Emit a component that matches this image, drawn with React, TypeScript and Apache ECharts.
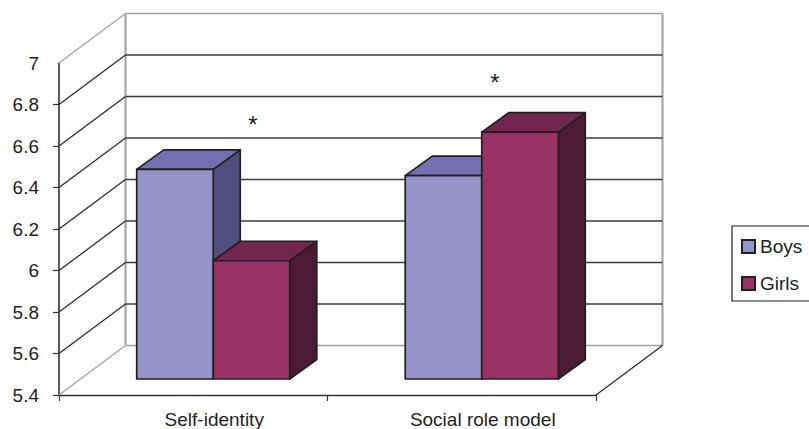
import React, { useEffect, useRef } from "react";
import * as echarts from "echarts";

const categories = ["Self-identity", "Social role model"];
const boys = [6.41, 6.38];
const girls = [5.97, 6.59];
const yTicks = [5.4, 5.6, 5.8, 6, 6.2, 6.4, 6.6, 6.8, 7];
const yMin = 5.4;
const yMax = 7;
const step = 0.2;

const FONT = '"Liberation Sans", Arial, sans-serif';
const TEXT = "#231f20";
const EDGE = "#231f20";
const GRID = "#3c3c3c";
const WALL = "#a0a0a2";
const WALL_D = [66.5, -49.5];
const BAR_BASE = [20, -16];
const BAR_D = [27, -19.5];
const BAR_FRAC = 0.285;

const face = (points: number[][], fill: string) => ({
  type: "polygon",
  shape: { points },
  style: { fill, stroke: EDGE, lineWidth: 1.7, lineJoin: "round" },
  silent: true,
});

const bar3d = (side: -1 | 1, front: string, top: string, right: string) => (_: any, api: any) => {
  const base = api.coord([api.value(0), yMin]);
  const head = api.coord([api.value(0), api.value(1)]);
  const bw = api.size([1, 0])[0] * BAR_FRAC;
  const x0 = base[0] + BAR_BASE[0] + (side < 0 ? -bw : 0);
  const x1 = x0 + bw;
  const y0 = base[1] + BAR_BASE[1];
  const y1 = head[1] + BAR_BASE[1];
  const [dx, dy] = BAR_D;
  return {
    type: "group",
    children: [
      face([[x1, y0], [x1 + dx, y0 + dy], [x1 + dx, y1 + dy], [x1, y1]], right),
      face([[x0, y1], [x0 + dx, y1 + dy], [x1 + dx, y1 + dy], [x1, y1]], top),
      face([[x0, y0], [x1, y0], [x1, y1], [x0, y1]], front),
    ],
  };
};

const line = (a: number[], b: number[], stroke: string, lineWidth: number) => ({
  type: "line",
  shape: { x1: a[0], y1: a[1], x2: b[0], y2: b[1] },
  style: { stroke, lineWidth },
  silent: true,
});

const wallItem = (_: any, api: any) => {
  const v = api.value(1);
  const p = api.coord([0, v]);
  const left = p[0] - api.size([1, 0])[0] / 2;
  const right = left + api.size([1, 0])[0] * categories.length;
  const y = p[1];
  const isEdge = v === yMin || v === yMax;
  const [dx, dy] = WALL_D;
  const children: any[] = [
    line([left, y], [left + dx, y + dy], isEdge ? WALL : "#262626", 1.2),
    line([left + dx, y + dy], [right + dx, y + dy], isEdge ? WALL : GRID, isEdge ? 1.6 : 1.3),
  ];
  if (v === yMin) {
    const t = api.coord([0, yMax])[1];
    children.push(
      line([left + dx, y + dy], [left + dx, t + dy], WALL, 2),
      line([right + dx, y + dy], [right + dx, t + dy], WALL, 2),
      line([right, y], [right + dx, y + dy], "#262626", 1.2)
    );
  }
  return { type: "group", children };
};

export default function App() {
  const ref = useRef<HTMLDivElement>(null);
  useEffect(() => {
    const chart = echarts.init(ref.current!, undefined, { renderer: "svg" });
    chart.setOption({
      animation: false,
      backgroundColor: "#ffffff",
      textStyle: { fontFamily: FONT },
      grid: { left: 59, top: 63, width: 537, height: 334 },
      xAxis: {
        type: "category",
        data: categories,
        axisLine: { lineStyle: { color: "#333", width: 1.4 } },
        axisTick: { show: true, length: 6, lineStyle: { color: "#333", width: 1.2 } },
        axisLabel: { color: TEXT, fontSize: 19, fontFamily: FONT, margin: 15, padding: [0, 0, 0, 42] },
      },
      yAxis: {
        type: "value",
        min: yMin,
        max: yMax,
        interval: step,
        axisLine: { show: true, lineStyle: { color: "#333", width: 1.6 } },
        axisTick: {
          show: true,
          length: 6,
          lineStyle: { color: "#333", width: 1.2 },
          customValues: yTicks.slice(0, -1),
        },
        splitLine: { show: false },
        axisLabel: {
          color: TEXT,
          fontSize: 19,
          fontFamily: FONT,
          margin: 20,
          formatter: (v: number) => String(Math.round(v * 10) / 10),
        },
      },
      legend: {
        orient: "vertical",
        left: 732,
        top: 226,
        data: ["Boys", "Girls"],
        icon: "rect",
        itemWidth: 13,
        itemHeight: 13,
        itemGap: 18,
        padding: [11, 14, 8, 9],
        borderColor: EDGE,
        borderWidth: 1.2,
        selectedMode: false,
        textStyle: { color: TEXT, fontSize: 19, fontFamily: FONT },
      },
      graphic: [
        { type: "text", x: 253, y: 124, style: { text: "*", fill: TEXT, fontSize: 24, fontFamily: FONT, align: "center", verticalAlign: "middle" } },
        { type: "text", x: 495, y: 82, style: { text: "*", fill: TEXT, fontSize: 24, fontFamily: FONT, align: "center", verticalAlign: "middle" } },
      ],
      series: [
        {
          name: "Walls",
          type: "custom",
          silent: true,
          renderItem: wallItem,
          data: yTicks.map((v) => [0, v]),
          encode: { x: 0, y: 1 },
          z: 1,
        },
        {
          name: "Boys",
          type: "custom",
          renderItem: bar3d(-1, "#9594c8", "#7370b2", "#4f4f80"),
          itemStyle: { color: "#9594c8", borderColor: EDGE, borderWidth: 1.6 },
          data: boys.map((v, i) => [i, v]),
          encode: { x: 0, y: 1 },
          z: 2,
        },
        {
          name: "Girls",
          type: "custom",
          renderItem: bar3d(1, "#993366", "#722650", "#4c1a33"),
          itemStyle: { color: "#993366", borderColor: EDGE, borderWidth: 1.6 },
          data: girls.map((v, i) => [i, v]),
          encode: { x: 0, y: 1 },
          z: 3,
        },
      ],
    });
    return () => chart.dispose();
  }, []);
  return <div ref={ref} style={{ position: "absolute", left: 0, top: 0, width: 809, height: 429 }} />;
}
